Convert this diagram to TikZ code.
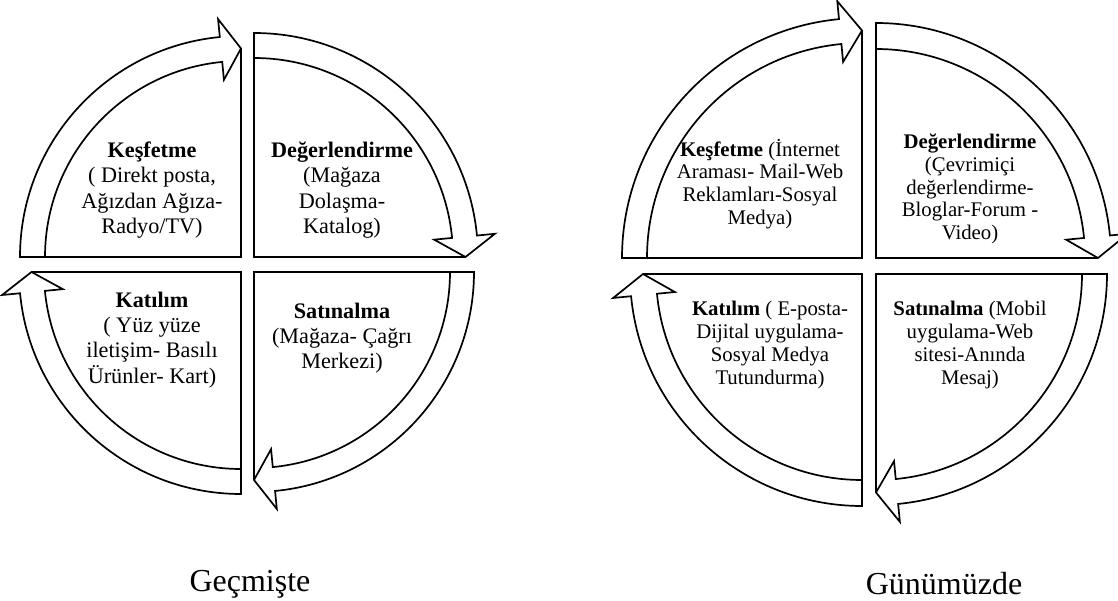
\documentclass[tikz,border=0pt]{standalone}
\usepackage{fontspec}
\setmainfont{Liberation Serif}
\begin{document}
\begin{tikzpicture}[x=0.5pt, y=0.5pt,
		bandarrow/.style={line width=0.85pt, fill=white},
		radline/.style={line width=0.85pt},
		oldtext/.style={align=center, font=\fontsize{11.1}{12.6}\selectfont},
		newtext/.style={align=center, font=\fontsize{10.4}{11.4}\selectfont},
		caption/.style={font=\fontsize{16}{19}\selectfont}]
			\useasboundingbox (0,0) rectangle (1118,600);
			% both wheels: centre/start angle/inner/outer radius
			\foreach \cx/\cy/\a/\ri/\ro in {241/343/180/196/221, 254/343/90/199/224, 254/328/0/196/220, 241/328/-90/197/222,
					862/342/180/215/240, 876/342/90/209/235, 876/326/0/206/231, 862/326/-90/206/232}{
				\begin{scope}[shift={(\cx,\cy)}]
					\pgfmathsetmacro\e{\a-90}
					\pgfmathsetmacro\b{\a-84.5}
					\pgfmathsetmacro\rm{(\ri+\ro)/2}
					\pgfmathsetmacro\hi{\ri-18}
					\pgfmathsetmacro\ho{\ro+18}
					\draw[bandarrow] (\a:\ro) arc[start angle=\a, end angle=\b, radius=\ro] -- (\b:\ho) -- (\e:\rm)
						-- (\b:\hi) -- (\b:\ri) arc[start angle=\b, end angle=\a, radius=\ri] -- cycle;
					\draw[radline] (\a:\ro) -- (0,0) -- (\e:\rm);
				\end{scope}
			}
			\node[oldtext] (kesif1) at (152,410) {\textbf{Keşfetme}\\( Direkt posta,\\Ağızdan Ağıza-\\Radyo/TV)};
			\node[oldtext] (deger1) at (342,410) {\textbf{Değerlendirme}\\(Mağaza\\Dolaşma-\\Katalog)};
			\node[oldtext] (katil1) at (152,260) {\textbf{Katılım}\\( Yüz yüze\\iletişim- Basılı\\Ürünler- Kart)};
			\node[oldtext] (satin1) at (342,262) {\textbf{Satınalma}\\(Mağaza- Çağrı\\Merkezi)};
			\node[newtext] (kesif2) at (760,416) {\textbf{Keşfetme} (İnternet\\Araması- Mail-Web\\Reklamları-Sosyal\\Medya)};
			\node[newtext] (deger2) at (970,411) {\textbf{Değerlendirme}\\(Çevrimiçi\\değerlendirme-\\Bloglar-Forum -\\Video)};
			\node[newtext] (katil2) at (770,255) {\textbf{Katılım} ( E-posta-\\Dijital uygulama-\\Sosyal Medya\\Tutundurma)};
			\node[newtext] (satin2) at (970,255) {\textbf{Satınalma} (Mobil\\uygulama-Web\\sitesi-Anında\\Mesaj)};
			\node[caption] (gecmis) at (250,16) {Geçmişte};
			\node[caption] (gunumuz) at (944,16) {Günümüzde};
		\end{tikzpicture}
\end{document}
